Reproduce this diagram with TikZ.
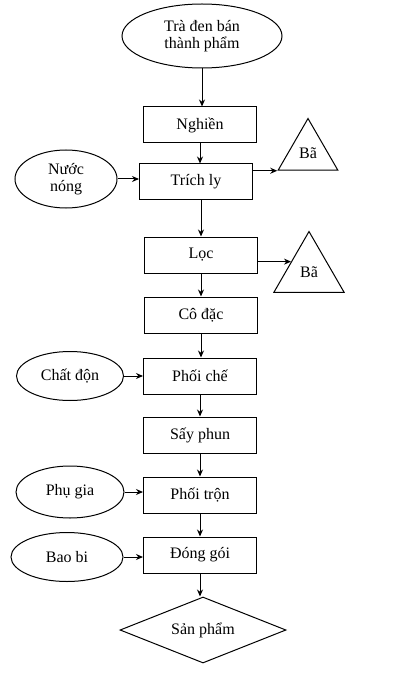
\documentclass[tikz,border=0pt]{standalone}
\usepackage{fontspec}
\setmainfont{Liberation Serif}
\usetikzlibrary{shapes.geometric,arrows.meta,calc}
\begin{document}
\begin{tikzpicture}[x=1pt,y=-1pt,
  every node/.style={font=\fontsize{16}{17}\selectfont, inner sep=0pt},
  procbox/.style={draw, line width=1pt, minimum width=113pt, minimum height=36pt},
  inell/.style={draw, ellipse, line width=1pt},
  waste/.style={draw, regular polygon, regular polygon sides=3, line width=1pt},
  arr/.style={line width=1pt, -{Stealth[length=7pt,width=6pt]}}]
\useasboundingbox (0,0) rectangle (400,676);
\node[inell, minimum width=160pt, minimum height=64pt, align=center] (src) at (202,36) {Trà đen bán\\thành phẩm};
\node[procbox] (ng) at (200,125) {Nghiền};
\node[procbox] (tr) at (196,182) {Trích ly};
\node[procbox] (lo) at (201,255) {Lọc};
\node[procbox] (cd) at (201,315) {Cô đặc};
\node[procbox] (pc) at (200,376) {Phối chế};
\node[procbox] (sp) at (200,435) {Sấy phun};
\node[procbox] (pt) at (200,495) {Phối trộn};
\node[procbox] (dg) at (200,555) {Đóng gói};
\node[draw, diamond, line width=1pt, minimum width=166pt, minimum height=66pt, aspect=2.5] (prod) at (203,630) {Sản phẩm};
\node[inell, minimum width=102pt, minimum height=58pt, align=center] (nn) at (66,179) {Nước\\nóng};
\node[inell, minimum width=107pt, minimum height=49pt] (chd) at (70,376) {Chất độn};
\node[inell, minimum width=108pt, minimum height=52pt] (pg) at (70,492) {Phụ gia};
\node[inell, minimum width=112pt, minimum height=49pt] (bb) at (67,557) {Bao bi};
\node[waste, minimum size=69pt] (b1) at (308,153) {};
\node at (308,153) {Bã};
\node[waste, minimum size=81pt] (b2) at (309,272) {};
\node at (309,272) {Bã};
% main flow
\draw[arr] (src.south) -- (src.south |- ng.north);
\draw[arr] (ng.south) -- (ng.south |- tr.north);
\draw[arr] (tr.south -| lo.north) -- (lo.north);
\draw[arr] (lo.south) -- (cd.north);
\draw[arr] (cd.south) -- (cd.south |- pc.north);
\draw[arr] (pc.south) -- (sp.north);
\draw[arr] (sp.south) -- (pt.north);
\draw[arr] (pt.south) -- (dg.north);
\draw[arr] (dg.south) -- (dg.south |- prod.north);
% inputs
\draw[arr] (nn.east) -- (nn.east -| tr.west);
\draw[arr] (chd.east) -- (chd.east -| pc.west);
\draw[arr] (pg.east) -- (pg.east -| pt.west);
\draw[arr] (bb.east) -- (bb.east -| dg.west);
% wastes
\draw[arr] (tr.east |- b1.corner 2) -- (b1.corner 2);
\coordinate (m2) at ($(b2.corner 1)!0.5!(b2.corner 2)$);
\draw[arr] (lo.east |- m2) -- (m2);
\end{tikzpicture}
\end{document}
